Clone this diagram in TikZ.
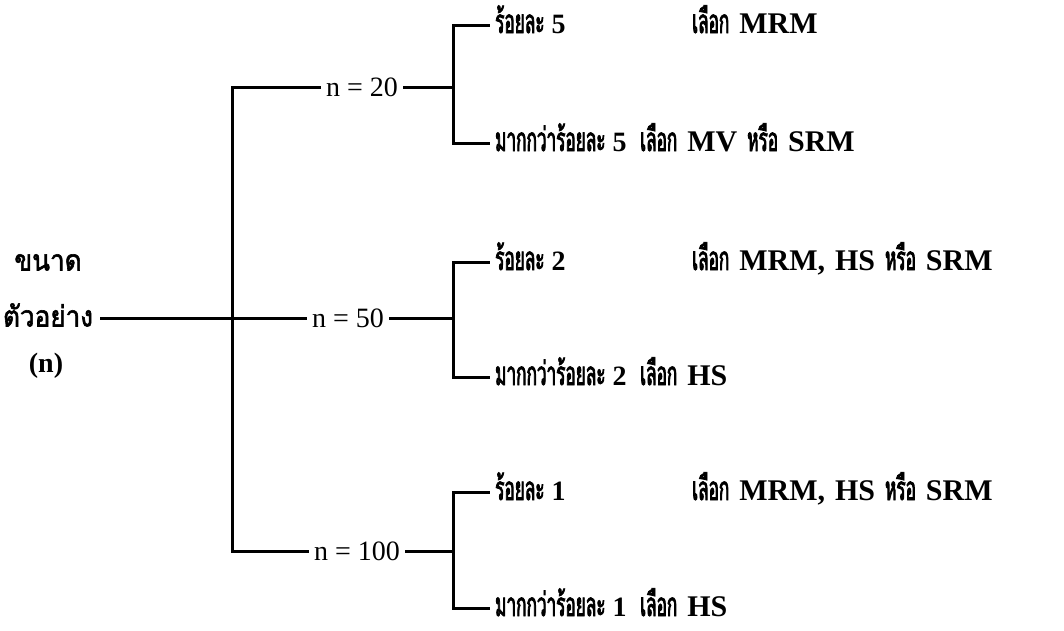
\documentclass[tikz,border=0pt]{standalone}
\usepackage{fontspec}
\setmainfont{Liberation Serif}
\newfontfamily\thaibig[Script=Thai,FakeStretch=0.9,FakeBold=2]{Loma}
\newfontfamily\thainarrow[Script=Thai,FakeStretch=0.52,FakeBold=2.4]{Loma}
\newcommand\tha[1]{{\thainarrow\mdseries\fontsize{33}{38}\selectfont #1}}
\newcommand\widesp{\spaceskip=10pt plus 1pt\relax}
\begin{document}
\begin{tikzpicture}[x=1pt,y=-1pt,
  conn/.style={line width=3pt, line cap=rect},
  big/.style={font=\fontsize{29}{34}\selectfont, inner sep=0pt, text height=19pt, text depth=2pt},
  nlab/.style={font=\fontsize{28}{32}\selectfont, inner ysep=0pt, inner xsep=6pt, text height=18pt, text depth=0pt},
  row/.style={font=\bfseries\fontsize{28}{32}\selectfont, inner ysep=0pt, inner xsep=7pt, text height=18pt, text depth=2pt, anchor=west},
  pick/.style={font=\bfseries\fontsize{30}{34}\selectfont, inner sep=0pt, text height=18pt, text depth=2pt, anchor=west}
]
\useasboundingbox (0,0) rectangle (1064,630);

% left label
\node[big] (kn) at (48,262) {\thaibig ขนาด};
\node[big, inner xsep=8pt] (tw) at (48,318) {\thaibig ตัวอย่าง};
\node[inner sep=0pt, font=\bfseries\fontsize{28}{32}\selectfont] (nn) at (46,366) {(n)};

% junctions
\coordinate (j20) at (232,87);
\coordinate (j50) at (232,318);
\coordinate (j100) at (232,551);

% n labels
\node[nlab] (n20) at (362,87) {n = 20};
\node[nlab] (n50) at (348,318) {n = 50};
\node[nlab] (n100) at (357,551) {n = 100};

% bracket spines
\coordinate (b20) at (453,87);
\coordinate (b50) at (453,318);
\coordinate (b100) at (453,551);

% row texts
\node[row] (r20a) at (488,25)  {\tha{ร้อยละ} 5};
\node[row] (r20b) at (488,143) {\tha{มากกว่าร้อยละ} 5};
\node[row] (r50a) at (488,262) {\tha{ร้อยละ} 2};
\node[row] (r50b) at (488,377) {\tha{มากกว่าร้อยละ} 2};
\node[row] (r100a) at (488,492) {\tha{ร้อยละ} 1};
\node[row] (r100b) at (488,608) {\tha{มากกว่าร้อยละ} 1};

% choices
\node[pick] (c20a) at (692,25)  {\widesp\tha{เลือก} MRM};
\node[pick] (c20b) at (640,143) {\widesp\tha{เลือก} MV \tha{หรือ} SRM};
\node[pick] (c50a) at (692,262) {\widesp\tha{เลือก} MRM, HS \tha{หรือ} SRM};
\node[pick] (c50b) at (640,377) {\widesp\tha{เลือก} HS};
\node[pick] (c100a) at (692,492) {\widesp\tha{เลือก} MRM, HS \tha{หรือ} SRM};
\node[pick] (c100b) at (640,608) {\widesp\tha{เลือก} HS};

% trunk
\draw[conn] (tw.east) -- (j50) -- (n50.west);
\draw[conn] (j20) -- (j100);
\draw[conn] (j20) -- (n20.west);
\draw[conn] (j100) -- (n100.west);

% to brackets
\draw[conn] (n20.east) -- (b20);
\draw[conn] (n50.east) -- (b50);
\draw[conn] (n100.east) -- (b100);

% brackets
\draw[conn] (r20a.west) -- (r20a.west -| b20) -- (r20b.west -| b20) -- (r20b.west);
\draw[conn] (r50a.west) -- (r50a.west -| b50) -- (r50b.west -| b50) -- (r50b.west);
\draw[conn] (r100a.west) -- (r100a.west -| b100) -- (r100b.west -| b100) -- (r100b.west);
\end{tikzpicture}
\end{document}
